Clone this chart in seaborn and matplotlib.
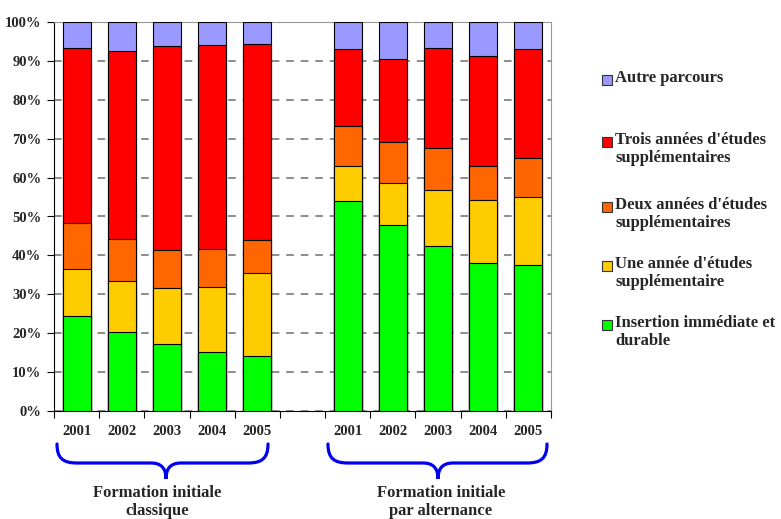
import numpy as np
import pandas as pd
import matplotlib
matplotlib.use("Agg")
import matplotlib.pyplot as plt
import seaborn as sns
from matplotlib.path import Path
from matplotlib.patches import PathPatch, Rectangle

# === données (parts en %) ===
YEARS = ["2001", "2002", "2003", "2004", "2005"]
GROUPS = ["Formation initiale\nclassique", "Formation initiale\npar alternance"]

# classique
insertion_cla = [24.4, 20.2, 17.3, 15.2, 14.1]
une_cla = [12.1, 13.3, 14.3, 16.8, 21.3]
deux_cla = [11.8, 10.8, 9.7, 9.7, 8.6]
trois_cla = [44.9, 48.2, 52.5, 52.4, 50.3]
autre_cla = [6.8, 7.5, 6.2, 5.9, 5.7]

# alternance
insertion_alt = [53.9, 47.8, 42.5, 38.1, 37.5]
une_alt = [9.0, 10.9, 14.4, 16.1, 17.5]
deux_alt = [10.3, 10.4, 10.7, 8.8, 10.1]
trois_alt = [19.9, 21.4, 25.7, 28.2, 28.0]
autre_alt = [6.9, 9.5, 6.7, 8.8, 6.9]

SERIES = ["Insertion immédiate et\ndurable",
          "Une année d'études\nsupplémentaire",
          "Deux années d'études\nsupplémentaires",
          "Trois années d'études\nsupplémentaires",
          "Autre parcours"]
COLORS = ["#00FF00", "#FFCC00", "#FF6600", "#FF0000", "#9999FF"]

W, H = 781, 519

sns.set_style("white")
plt.rcParams['font.family'] = ['Liberation Serif', 'DejaVu Serif']
plt.rcParams['font.weight'] = 'bold'

# table longue : une clé unique par barre, plus un emplacement vide
keys_cla = ["C" + y for y in YEARS]
keys_alt = ["A" + y for y in YEARS]
order = keys_cla + ["gap"] + keys_alt

vals = np.array([insertion_cla + insertion_alt,
                 une_cla + une_alt,
                 deux_cla + deux_alt,
                 trois_cla + trois_alt,
                 autre_cla + autre_alt])
cum = vals.cumsum(axis=0)
cum = cum / cum[-1] * 100

df = pd.DataFrame({"key": keys_cla + keys_alt})
for i, s in enumerate(SERIES):
    df[s] = cum[i]

fig = plt.figure(figsize=(W / 100, H / 100), dpi=100)
ax = fig.add_axes([54 / W, 1 - 411 / H, 497 / W, 389 / H])

# barres empilées : on dessine les cumuls du plus grand au plus petit
for i in range(len(SERIES) - 1, -1, -1):
    sns.barplot(data=df, x="key", y=SERIES[i], order=order, color=COLORS[i],
                saturation=1, width=0.62, edgecolor="black", linewidth=0.8,
                ax=ax, zorder=3)

ax.set_ylim(0, 100)
ax.set_xlim(-0.5, len(order) - 0.5)
ax.set_yticks(np.arange(0, 101, 10))
ax.set_yticklabels([f"{v}%" for v in range(0, 101, 10)], fontsize=10.5, fontweight="bold")
ax.set_ylabel("")
ax.set_xlabel("")

# ticks majeurs entre les catégories, libellés sur les ticks mineurs
ax.set_xticks(np.arange(-0.5, len(order), 1))
ax.set_xticklabels([])
ax.set_xticks(np.arange(len(order)), minor=True)
ax.set_xticklabels(YEARS + [""] + YEARS, minor=True, fontsize=10.5, fontweight="bold")
ax.tick_params(axis="x", which="major", direction="out", length=5, width=0.8, color="black", bottom=True)
ax.tick_params(axis="x", which="minor", length=0, pad=10)
ax.tick_params(axis="y", direction="out", length=5, width=0.8, color="black", left=True, pad=4)

ax.yaxis.grid(True, color="#6e6e6e", linestyle=(0, (5, 4.5)), linewidth=1.1, zorder=0)
ax.set_axisbelow(True)
for side in ["left", "bottom"]:
    ax.spines[side].set_color("black")
    ax.spines[side].set_linewidth(0.8)
for side in ["top", "right"]:
    ax.spines[side].set_color("#999999")
    ax.spines[side].set_linewidth(0.8)


def px(x, y):
    return (x / W, 1 - y / H)


def brace(x0, x1, xc, ytop=444, ymid=463, ytip=479, r=20, rc=15):
    pts = [
        (x0, ytop), (x0, ytop + 0.75 * (ymid - ytop)), (x0 + 0.3 * r, ymid), (x0 + r, ymid),
        (xc - rc, ymid), (xc - 0.35 * rc, ymid), (xc, ymid + 0.3 * (ytip - ymid)), (xc, ytip),
        (xc, ymid + 0.3 * (ytip - ymid)), (xc + 0.35 * rc, ymid), (xc + rc, ymid),
        (x1 - r, ymid), (x1 - 0.3 * r, ymid), (x1, ytop + 0.75 * (ymid - ytop)), (x1, ytop),
    ]
    codes = [Path.MOVETO, Path.CURVE4, Path.CURVE4, Path.CURVE4,
             Path.LINETO, Path.CURVE4, Path.CURVE4, Path.CURVE4,
             Path.CURVE4, Path.CURVE4, Path.CURVE4,
             Path.LINETO, Path.CURVE4, Path.CURVE4, Path.CURVE4]
    path = Path([px(*p) for p in pts], codes)
    fig.patches.append(PathPatch(path, transform=fig.transFigure, facecolor="none",
                                 edgecolor="#0000EE", linewidth=2.3, capstyle="round"))


brace(57, 268, 166)
brace(328, 547, 438)

fig.text(*px(157, 485), GROUPS[0], ha="center", va="top", fontsize=12,
         fontweight="bold", linespacing=1.2)
fig.text(*px(441, 485), GROUPS[1], ha="center", va="top", fontsize=12,
         fontweight="bold", linespacing=1.2)

# légende dessinée à la main (carré aligné sur la première ligne)
legend_y = [325, 266, 207, 142, 80]
for i, s in enumerate(SERIES):
    yc = legend_y[i]
    fig.patches.append(Rectangle(px(602, yc + 5), 10 / W, 10 / H, transform=fig.transFigure,
                                 facecolor=COLORS[i], edgecolor="#333333", linewidth=0.8))
    fig.text(*px(615, yc - 10), s, ha="left", va="top", fontsize=12,
             fontweight="bold", linespacing=1.2)

fig.savefig("out.png", dpi=100)
